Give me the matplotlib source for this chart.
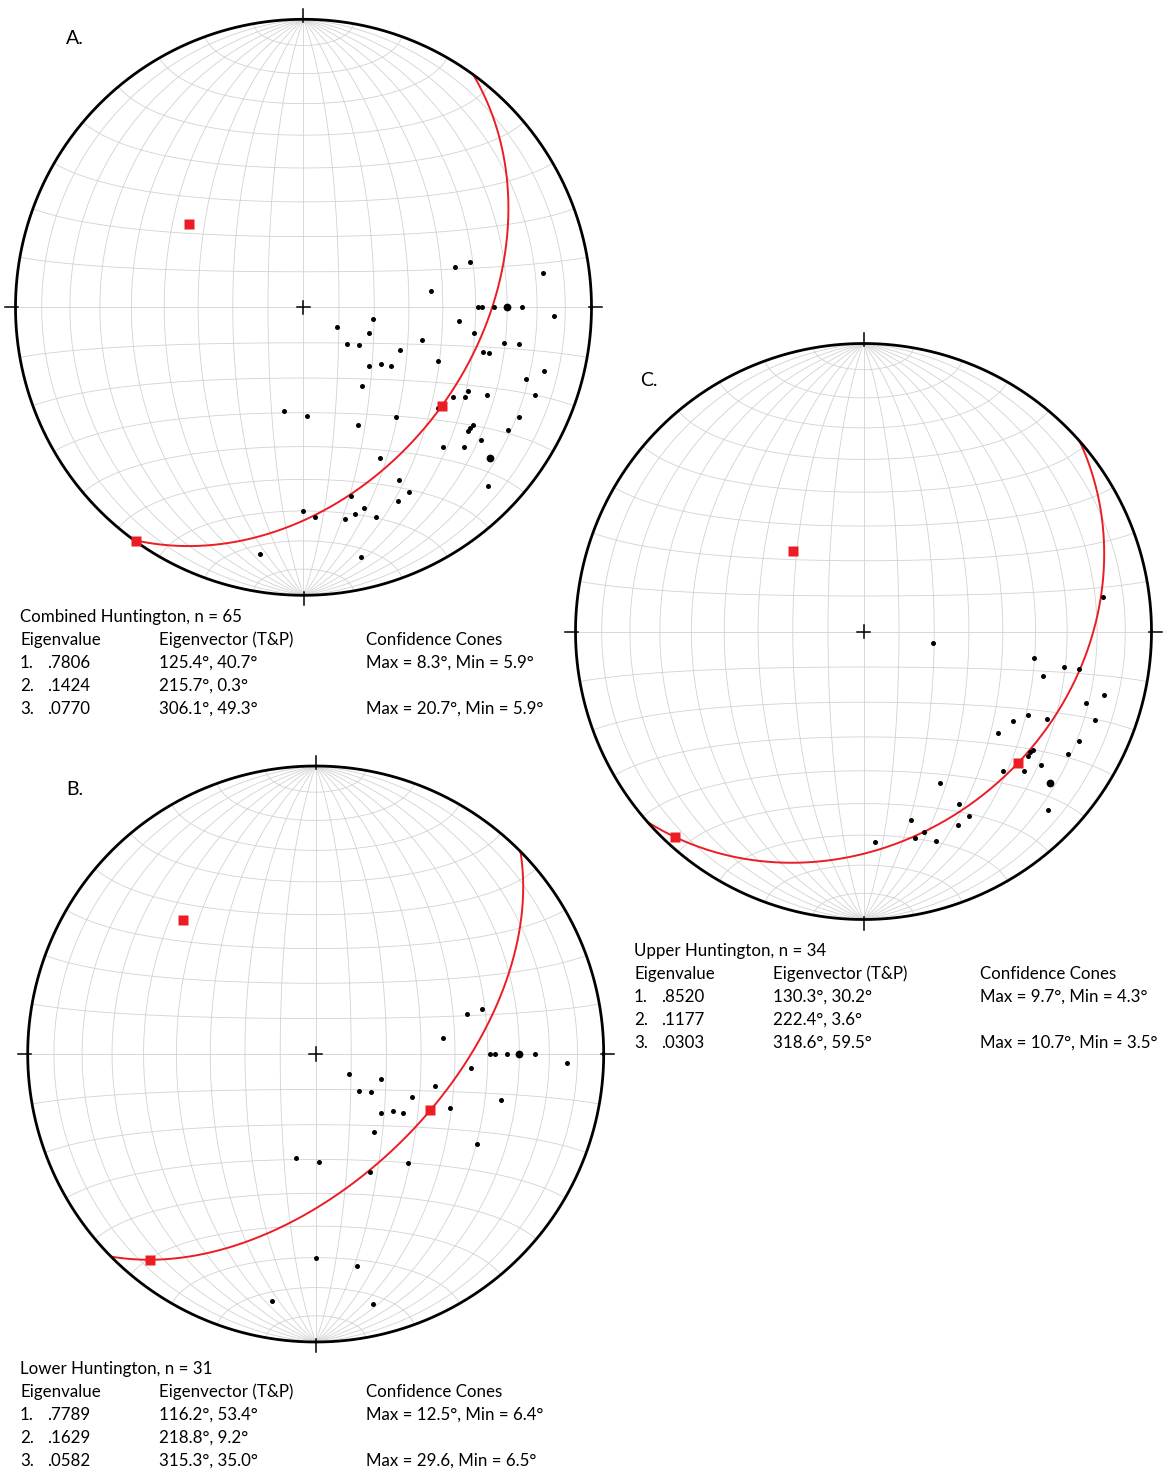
import numpy as np
import matplotlib
matplotlib.use("Agg")
import matplotlib.pyplot as plt
from collections import Counter

# ---------------- data (trend, plunge in degrees) ----------------
lower_trend = [75.2, 74.8, 82.9, 90.0, 90.0, 90.0, 90.0, 90.0, 90.0, 92.1, 95.2,
               120.6, 111.1, 130.0, 124.6, 105.2, 113.8, 131.8, 126.4, 123.9,
               111.8, 103.9, 143.1, 119.1, 190.8, 178.3, 139.9, 155.2, 180.0,
               169.0, 190.1, 167.0]
lower_plunge = [44.9, 40.0, 53.2, 39.3, 37.9, 34.1, 30.0, 30.0, 25.0, 13.9, 45.0,
                79.1, 70.1, 73.9, 71.1, 54.8, 59.9, 65.0, 62.8, 60.1,
                48.3, 34.0, 62.2, 36.1, 60.0, 59.1, 48.9, 52.9, 30.0,
                25.9, 14.1, 11.9]

upper_trend = [81.9, 99.8, 98.7, 100.0, 99.8, 104.0, 104.9, 107.9, 110.8, 120.8,
               116.9, 115.6, 126.9, 116.9, 120.9, 127.0, 125.9, 124.9, 126.9,
               131.1, 135.1, 129.0, 129.0, 153.0, 151.1, 134.1, 150.2, 166.0,
               154.0, 163.2, 166.0, 160.9, 176.8]
upper_plunge = [17.1, 70.1, 40.0, 30.1, 25.1, 35.9, 14.8, 20.0, 15.0, 39.3,
                36.1, 30.1, 41.2, 17.3, 18.2, 29.2, 29.2, 29.1, 24.0,
                27.1, 32.1, 17.8, 17.8, 40.8, 32.1, 11.9, 27.1, 32.9,
                26.1, 28.0, 26.9, 23.9, 27.8]

combined_trend = lower_trend + upper_trend
combined_plunge = lower_plunge + upper_plunge

# eigen results per data set
eig_values = {"A": [".7806", ".1424", ".0770"],
              "B": [".7789", ".1629", ".0582"],
              "C": [".8520", ".1177", ".0303"]}
eig_trend = {"A": [125.4, 215.7, 306.1], "B": [116.2, 218.8, 315.3], "C": [130.3, 222.4, 318.6]}
eig_plunge = {"A": [40.7, 0.3, 49.3], "B": [53.4, 9.2, 35.0], "C": [30.2, 3.6, 59.5]}
titles = {"A": "Combined Huntington, n = 65",
          "B": "Lower Huntington, n = 31",
          "C": "Upper Huntington, n = 34"}
cones = {"A": ["Max = 8.3°, Min = 5.9°", "", "Max = 20.7°, Min = 5.9°"],
         "B": ["Max = 12.5°, Min = 6.4°", "", "Max = 29.6, Min = 6.5°"],
         "C": ["Max = 9.7°, Min = 4.3°", "", "Max = 10.7°, Min = 3.5°"]}
datasets = {"A": (combined_trend, combined_plunge),
            "B": (lower_trend, lower_plunge),
            "C": (upper_trend, upper_plunge)}

# ---------------- layout (pixels) ----------------
W, H = 1163, 1471
R_PX = 288.0
centers = {"A": (303.5, 307.3), "B": (315.7, 1054.0), "C": (863.5, 631.5)}
PAD = 1.1

RED = "#ec1c24"
GRID = "#d2d2d2"

plt.rcParams['font.family'] = ['Lato', 'DejaVu Sans']

fig = plt.figure(figsize=(W / 100, H / 100), dpi=100)


def vec_proj(e, n, d):
    s = np.sqrt(1.0 + d)
    return e / s, n / s


def line_proj(trend, plunge):
    t = np.radians(np.asarray(trend, float))
    p = np.radians(np.asarray(plunge, float))
    r = np.sqrt(2.0) * np.sin((np.pi / 2 - p) / 2.0)
    return r * np.sin(t), r * np.cos(t)


def draw_net(key):
    cx, cy = centers[key]
    size = 2 * PAD * R_PX
    ax = fig.add_axes([(cx - size / 2) / W, 1 - (cy + size / 2) / H, size / W, size / H])
    ax.set_xlim(-PAD, PAD)
    ax.set_ylim(-PAD, PAD)
    ax.set_aspect('equal')
    ax.axis('off')
    ax.patch.set_alpha(0)

    phi = np.radians(np.linspace(-90, 90, 361))
    # meridians (great circles through N-S axis)
    for a in range(10, 180, 10):
        ar = np.radians(a)
        e = np.cos(phi) * np.cos(ar)
        n = np.sin(phi)
        d = np.cos(phi) * np.sin(ar)
        x, y = vec_proj(e, n, d)
        ax.plot(x, y, color=GRID, lw=0.6, zorder=1)
    # small circles about N-S axis
    b = np.radians(np.linspace(0, 180, 361))
    for lat in range(-80, 81, 10):
        lr = np.radians(lat)
        e = np.cos(lr) * np.cos(b)
        n = np.sin(lr) * np.ones_like(b)
        d = np.cos(lr) * np.sin(b)
        x, y = vec_proj(e, n, d)
        ax.plot(x, y, color=GRID, lw=0.6, zorder=1)

    # primitive
    th = np.linspace(0, 2 * np.pi, 721)
    ax.plot(np.cos(th), np.sin(th), color='black', lw=2.0, zorder=5)
    # cardinal ticks
    for ang in (0, 90, 180, 270):
        r0, r1 = 0.99, 1.035
        s, c = np.sin(np.radians(ang)), np.cos(np.radians(ang))
        ax.plot([r0 * s, r1 * s], [r0 * c, r1 * c], color='black', lw=1.1, zorder=5)
    # center cross
    h = 0.023
    ax.plot([-h, h], [0, 0], color='black', lw=1.1, zorder=5)
    ax.plot([0, 0], [-h, h], color='black', lw=1.1, zorder=5)

    # great circle with pole = eigenvector 3
    tp, pp = eig_trend[key][2], eig_plunge[key][2]
    dd = np.radians(tp + 180.0)
    dip = np.radians(90.0 - pp)
    S = np.array([np.sin(dd - np.pi / 2), np.cos(dd - np.pi / 2), 0.0])
    D = np.array([np.sin(dd) * np.cos(dip), np.cos(dd) * np.cos(dip), np.sin(dip)])
    s = np.linspace(0, np.pi, 400)
    v = np.outer(np.cos(s), S) + np.outer(np.sin(s), D)
    x, y = vec_proj(v[:, 0], v[:, 1], v[:, 2])
    ax.plot(x, y, color=RED, lw=1.4, zorder=3)

    # data points (coincident points drawn larger)
    tr, pl = datasets[key]
    counts = Counter(zip(tr, pl))
    for (t, p), c in counts.items():
        x, y = line_proj(t, p)
        ax.plot(x, y, 'o', color='black', ms=3.6 if c == 1 else 5.6, mec='none', zorder=4)

    # eigenvectors
    x, y = line_proj(eig_trend[key], eig_plunge[key])
    ax.plot(x, y, 's', color=RED, ms=7, mec='none', zorder=6)
    return ax


for k in ("A", "B", "C"):
    draw_net(k)


def ftext(x, y, s, **kw):
    fig.text(x / W, 1 - y / H, s, va='center', ha='left', **kw)


FS = 12.2
blocks = {"A": (20, 617), "B": (20, 1369), "C": (634, 951)}
for k, (x0, y0) in blocks.items():
    dy = 23.0
    ftext(x0, y0, titles[k], fontsize=FS)
    ftext(x0, y0 + dy, "Eigenvalue", fontsize=FS)
    ftext(x0 + 139, y0 + dy, "Eigenvector (T&P)", fontsize=FS)
    ftext(x0 + 346, y0 + dy, "Confidence Cones", fontsize=FS)
    for i in range(3):
        yy = y0 + dy * (i + 2)
        ftext(x0, yy, f"{i + 1}.", fontsize=FS)
        ftext(x0 + 27, yy, eig_values[k][i], fontsize=FS)
        ftext(x0 + 139, yy, f"{eig_trend[k][i]:.1f}°, {eig_plunge[k][i]:.1f}°", fontsize=FS)
        if cones[k][i]:
            ftext(x0 + 346, yy, cones[k][i], fontsize=FS)

labels = {"A": (66, 38), "B": (66, 790), "C": (640, 380)}
for k, (x, y) in labels.items():
    ftext(x, y, k + ".", fontsize=14)

fig.savefig("out.png", dpi=100)
